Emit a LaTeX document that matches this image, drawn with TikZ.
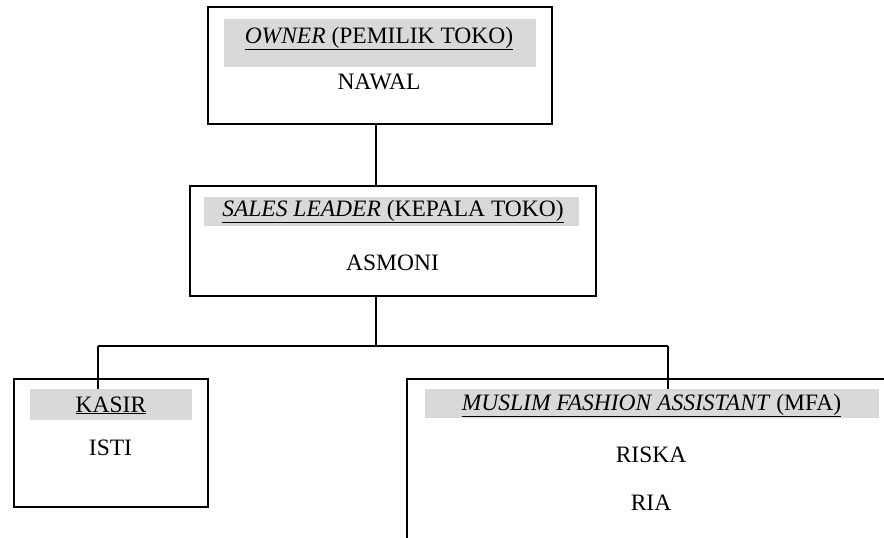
\documentclass[tikz,border=0pt]{standalone}
\usepackage{fontspec}
\setmainfont{Liberation Serif}
\definecolor{bandgray}{HTML}{D9D9D9}
\tikzset{
  box/.style={draw=black, line width=1.6pt, fill=white, inner sep=0pt, rectangle},
  band/.style={fill=bandgray, inner sep=0pt, rectangle},
  lbl/.style={inner sep=0pt, anchor=base, font=\fontsize{23.5}{28}\selectfont},
  conn/.style={draw=black, line width=1.6pt},
}
\begin{document}
\begin{tikzpicture}[x=1pt, y=-1pt]
\useasboundingbox[fill=white] (0,0) rectangle (884,538);
% boxes
\node[box, minimum width=344pt, minimum height=117pt] (owner) at (380,65.5) {};
\node[box, minimum width=406pt, minimum height=110pt] (lead) at (393,241) {};
\node[box, minimum width=194pt, minimum height=128pt] (kasir) at (111,443) {};
\coordinate (mfatr) at (890,379);
\coordinate (mfatl) at (407,379);
\coordinate (mfabl) at (407,545);
\draw[conn] (mfatr) -- (mfatl) -- (mfabl);
% header bands
\node[band, minimum width=312pt, minimum height=48pt] (ownerh) at (380,43) {};
\node[band, minimum width=375pt, minimum height=29pt] (leadh) at (391.5,211.5) {};
\node[band, minimum width=162pt, minimum height=31pt] (kasirh) at (111,404.5) {};
\node[band, minimum width=454pt, minimum height=29pt] (mfah) at (652,403.5) {};
% connectors
\coordinate (j0) at (376,346);
\coordinate (jl) at (98,346);
\coordinate (jr) at (668,346);
\draw[conn] (owner.south -| j0) -- (lead.north -| j0);
\draw[conn] (lead.south -| j0) -- (j0);
\draw[conn] (jl) -- (jr);
\draw[conn] (jl) -- (jl |- kasirh.north);
\draw[conn] (jr) -- (jr |- mfah.north);
% texts
\node[lbl] (ownert) at (379,43) {\underline{\textit{OWNER} (PEMILIK TOKO)}};
\node[lbl] (nawal) at (379,89) {NAWAL};
\node[lbl] (leadt) at (393,216) {\underline{\textit{SALES LEADER} (KEPALA TOKO)}};
\node[lbl] (asmoni) at (392.5,270) {ASMONI};
\node[lbl] (kasirt) at (111,412) {\underline{KASIR}};
\node[lbl] (isti) at (110.5,455) {ISTI};
\node[lbl] (mfat) at (651.5,410) {\underline{\textit{MUSLIM FASHION ASSISTANT} (MFA)}};
\node[lbl] (riska) at (651,462) {RISKA};
\node[lbl] (ria) at (651,510) {RIA};
\end{tikzpicture}
\end{document}
